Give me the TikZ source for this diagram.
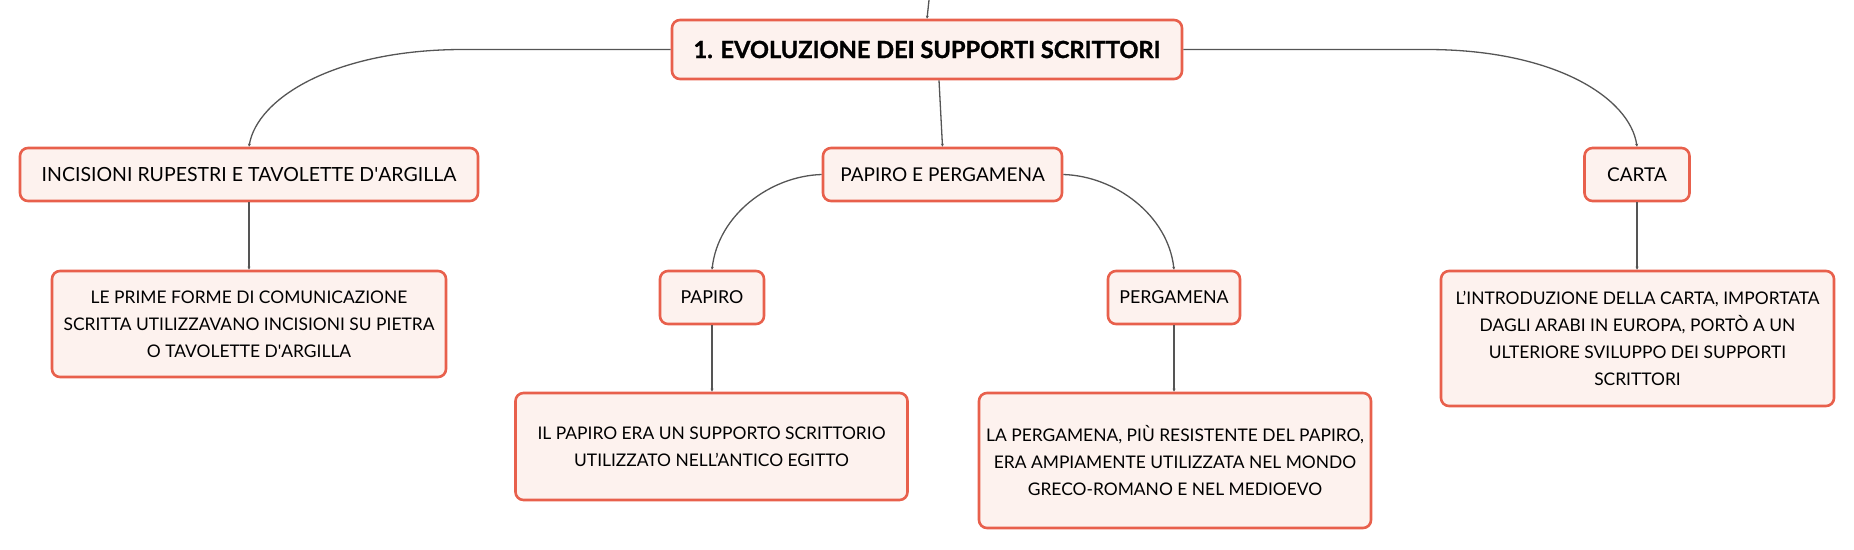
\documentclass[tikz,border=0pt]{standalone}
\usepackage{fontspec}
\setmainfont{Lato}
\newfontfamily\heavyfont{Lato}[BoldFeatures={FakeBold=1.2}]
\usetikzlibrary{arrows.meta}
\definecolor{boxfill}{HTML}{FDF2EE}
\definecolor{boxline}{HTML}{E8604C}
\definecolor{connline}{HTML}{555555}
\tikzset{
  mbox/.style={draw=boxline, fill=boxfill, line width=2.6pt, rounded corners=8pt,
    inner sep=0pt, align=center, font=\fontsize{19}{27}\selectfont, text=black},
  leafbox/.style={mbox, font=\fontsize{17.4}{26.8}\selectfont},
  rootbox/.style={mbox, font=\heavyfont\fontsize{23.6}{30}\bfseries\selectfont},
  conn/.style={draw=connline, line width=1.3pt, -{Stealth[length=3pt,width=3pt]}},
}
\begin{document}
\begin{tikzpicture}[x=1pt,y=-1pt]
\useasboundingbox (0,0) rectangle (1854,549);
% nodes
\node[rootbox, minimum width=510, minimum height=59] (root) at (927,49.5) {1. EVOLUZIONE DEI SUPPORTI SCRITTORI};
\node[mbox, minimum width=458, minimum height=53, font=\fontsize{19.5}{27}\selectfont] (inc) at (249,174.5) {INCISIONI RUPESTRI E TAVOLETTE D\textquotesingle ARGILLA};
\node[mbox, minimum width=239, minimum height=53] (pep) at (942.5,174.5) {PAPIRO E PERGAMENA};
\node[mbox, minimum width=105, minimum height=53] (carta) at (1637,174.5) {CARTA};
\node[leafbox, minimum width=394, minimum height=106] (incc) at (249,324) {LE PRIME FORME DI COMUNICAZIONE\\SCRITTA UTILIZZAVANO INCISIONI SU PIETRA\\O TAVOLETTE D\textquotesingle ARGILLA};
\node[mbox, minimum width=104, minimum height=53, font=\fontsize{17.8}{27}\selectfont] (papiro) at (712,297.5) {PAPIRO};
\node[mbox, minimum width=132, minimum height=53, font=\fontsize{17.8}{27}\selectfont] (perg) at (1174,297.5) {PERGAMENA};
\node[leafbox, minimum width=392, minimum height=107] (papc) at (711.5,446.5) {IL PAPIRO ERA UN SUPPORTO SCRITTORIO\\UTILIZZATO NELL’ANTICO EGITTO};
\node[leafbox, minimum width=392, minimum height=135] (pergc) at (1175,460.5) {LA PERGAMENA, PIÙ RESISTENTE DEL PAPIRO,\\ERA AMPIAMENTE UTILIZZATA NEL MONDO\\GRECO-ROMANO E NEL MEDIOEVO};
\node[leafbox, minimum width=393, minimum height=135] (cartac) at (1637.5,338.5) {L’INTRODUZIONE DELLA CARTA, IMPORTATA\\DAGLI ARABI IN EUROPA, PORTÒ A UN\\ULTERIORE SVILUPPO DEI SUPPORTI\\SCRITTORI};
% connectors
\coordinate (topend) at (929,0);
\draw[conn] (topend) -- (root.north);
\draw[conn] ([xshift=12pt]root.south) -- (pep.north);
\coordinate (lbend) at (463,49.5);
\coordinate (rbend) at (1427,49.5);
\draw[conn] (root.west) -- (lbend) .. controls (335,49.5) and (257,98) .. (inc.north);
\draw[conn] (root.east) -- (rbend) .. controls (1555,49.5) and (1630,98) .. (carta.north);
\draw[conn] (pep.west) .. controls (770,176) and (718,215) .. (papiro.north);
\draw[conn] (pep.east) .. controls (1115,176) and (1168,215) .. (perg.north);
\draw[conn] (inc.south) -- (incc.north);
\draw[conn] (papiro.south) -- (papc.north -| papiro.south);
\draw[conn] (perg.south) -- (pergc.north -| perg.south);
\draw[conn] (carta.south) -- (cartac.north -| carta.south);
\end{tikzpicture}
\end{document}
